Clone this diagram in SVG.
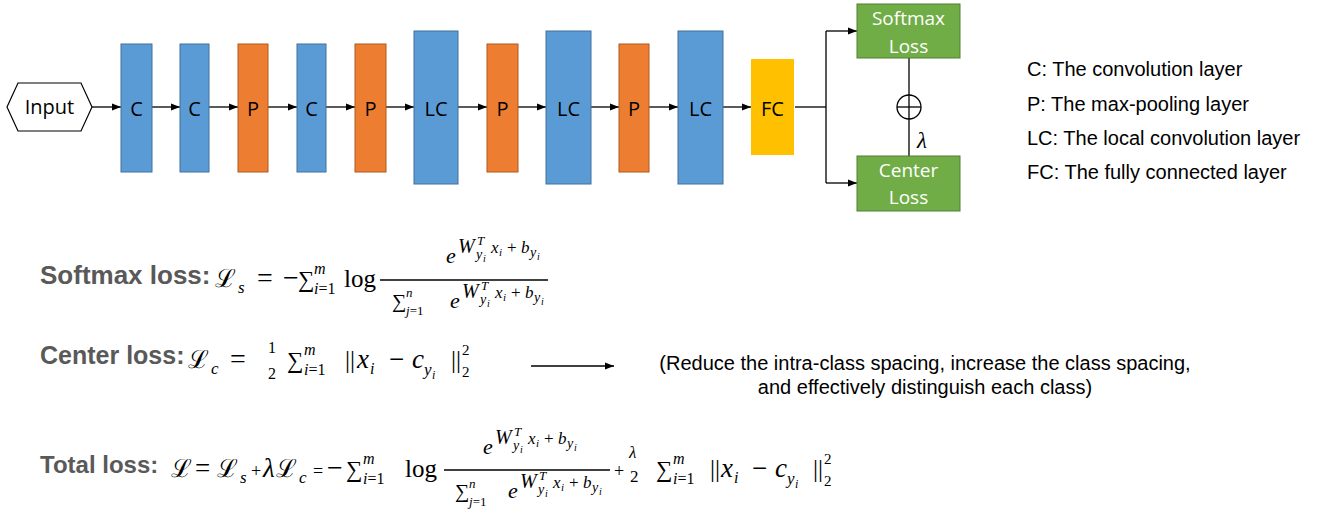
<svg xmlns="http://www.w3.org/2000/svg" xmlns:xlink="http://www.w3.org/1999/xlink" width="1339" height="517" viewBox="0 0 1339 517">
<style>
.conv{fill:#5B9BD5;stroke:#41719C;stroke-width:1}
.pool{fill:#ED7D31;stroke:#AE5A21;stroke-width:1}
.fc{fill:#FFC000}
.loss{fill:#70AD47;stroke:#507E32;stroke-width:1}
.lbl{font-family:"Open Sans","Noto Sans",sans-serif;font-size:20px;fill:#000;text-anchor:middle}
.wl{font-family:"Open Sans","Noto Sans",sans-serif;font-size:19px;fill:#fff;text-anchor:middle}
.leg{font-family:"Liberation Sans",Arial,sans-serif;font-size:20px;fill:#000}
.head{font-family:"Liberation Sans",Arial,sans-serif;font-weight:bold;fill:#595959}
.m{font-family:"Liberation Serif","DejaVu Serif",serif;fill:#000}
.i{font-style:italic}
.ln{fill:none;stroke:#000;stroke-width:1.3}
</style>
<defs>
<marker id="ah" viewBox="0 0 10 10" refX="10" refY="5" markerWidth="9" markerHeight="9" markerUnits="userSpaceOnUse" orient="auto"><path d="M0,1 L10,5 L0,9 z" fill="#000"/></marker>
<g id="expo" class="m">
<text x="0" y="0" font-size="22" class="i">e</text>
<text x="12" y="-10" font-size="20" class="i">W</text>
<text x="31" y="-18" font-size="13" class="i">T</text>
<text x="30" y="-4" font-size="14" class="i">y</text>
<text x="37" y="-1" font-size="10" class="i">i</text>
<text x="45" y="-10" font-size="17" class="i">x</text>
<text x="53" y="-7" font-size="11" class="i">i</text>
<text x="61" y="-10" font-size="17">+</text>
<text x="75" y="-10" font-size="17" class="i">b</text>
<text x="84" y="-6" font-size="14" class="i">y</text>
<text x="91" y="-3" font-size="10" class="i">i</text>
</g>
</defs>
<rect width="1339" height="517" fill="#fff"/>

<g id="connectors" class="ln">
<line x1="92" y1="107" x2="121" y2="107" marker-end="url(#ah)"/>
<line x1="152" y1="107" x2="180" y2="107" marker-end="url(#ah)"/>
<line x1="209" y1="107" x2="238" y2="107" marker-end="url(#ah)"/>
<line x1="268" y1="107" x2="297" y2="107" marker-end="url(#ah)"/>
<line x1="326" y1="107" x2="355" y2="107" marker-end="url(#ah)"/>
<line x1="386" y1="107" x2="414" y2="107" marker-end="url(#ah)"/>
<line x1="458" y1="107" x2="487" y2="107" marker-end="url(#ah)"/>
<line x1="518" y1="107" x2="546" y2="107" marker-end="url(#ah)"/>
<line x1="591" y1="107" x2="619" y2="107" marker-end="url(#ah)"/>
<line x1="649" y1="107" x2="678" y2="107" marker-end="url(#ah)"/>
<line x1="723" y1="107" x2="751" y2="107" marker-end="url(#ah)"/>
<line x1="795" y1="107" x2="826" y2="107"/>
<line x1="826" y1="31" x2="826" y2="183"/>
<line x1="826" y1="31" x2="857" y2="31" marker-end="url(#ah)"/>
<line x1="826" y1="183" x2="857" y2="183" marker-end="url(#ah)"/>
<line x1="909" y1="58" x2="909" y2="156"/>
<circle cx="909" cy="107" r="12"/>
<line x1="897" y1="107" x2="921" y2="107"/>
<line x1="531" y1="366" x2="614" y2="366" marker-end="url(#ah)"/>
</g>
<text x="917" y="148" class="m i" font-size="23">λ</text>

<g id="input"><polygon points="7,107 18,83 81,83 92,107 81,131 18,131" fill="#fff" stroke="#000" stroke-width="1.2"/><text x="49.5" y="114" class="lbl" font-size="16">Input</text></g>
<g id="c1"><rect class="conv" x="121" y="44" width="31" height="128"/><text x="136.5" y="116" class="lbl">C</text></g>
<g id="c2"><rect class="conv" x="180" y="44" width="29" height="128"/><text x="194.5" y="116" class="lbl">C</text></g>
<g id="p1"><rect class="pool" x="238" y="44" width="30" height="128"/><text x="253" y="116" class="lbl">P</text></g>
<g id="c3"><rect class="conv" x="297" y="44" width="29" height="128"/><text x="311.5" y="116" class="lbl">C</text></g>
<g id="p2"><rect class="pool" x="355" y="44" width="31" height="128"/><text x="370.5" y="116" class="lbl">P</text></g>
<g id="lc1"><rect class="conv" x="414" y="31" width="44" height="153"/><text x="436" y="116" class="lbl">LC</text></g>
<g id="p3"><rect class="pool" x="487" y="44" width="31" height="128"/><text x="502.5" y="116" class="lbl">P</text></g>
<g id="lc2"><rect class="conv" x="546" y="31" width="45" height="153"/><text x="568.5" y="116" class="lbl">LC</text></g>
<g id="p4"><rect class="pool" x="619" y="44" width="30" height="128"/><text x="634" y="116" class="lbl">P</text></g>
<g id="lc3"><rect class="conv" x="678" y="31" width="45" height="153"/><text x="700.5" y="116" class="lbl">LC</text></g>
<g id="fc"><rect class="fc" x="751" y="59" width="43" height="96"/><text x="772.5" y="116" class="lbl">FC</text></g>
<g id="softmax-loss"><rect class="loss" x="857" y="4" width="103" height="54"/><text x="908.5" y="25" class="wl">Softmax</text><text x="908.5" y="53" class="wl">Loss</text></g>
<g id="center-loss"><rect class="loss" x="857" y="156" width="103" height="55"/><text x="908.5" y="177" class="wl">Center</text><text x="908.5" y="204" class="wl">Loss</text></g>

<g id="legend" class="leg">
<text x="1027" y="76">C: The convolution layer</text>
<text x="1027" y="111">P: The max-pooling layer</text>
<text x="1027" y="145">LC: The local convolution layer</text>
<text x="1027" y="179">FC: The fully connected layer</text>
</g>

<g id="note" class="leg" text-anchor="middle">
<text x="925" y="370">(Reduce the intra-class spacing, increase the class spacing,</text>
<text x="925" y="394">and effectively distinguish each class)</text>
</g>

<g id="softmax-formula">
<text x="40" y="284" class="head" font-size="26">Softmax loss:</text>
<g class="m">
<text x="215" y="287" font-size="25">ℒ</text>
<text x="238" y="293" font-size="17" class="i">s</text>
<text x="257" y="287" font-size="28">=</text>
<text x="283" y="287" font-size="28">−</text>
<text x="298" y="287" font-size="23">∑</text>
<text x="314" y="274" font-size="16" class="i">m</text>
<text x="314" y="294" font-size="16"><tspan class="i">i</tspan>=1</text>
<text x="344" y="287" font-size="25">log</text>
<line x1="380" y1="280" x2="548" y2="280" stroke="#000" stroke-width="1.3"/>
<text x="392" y="308" font-size="20">∑</text>
<text x="406" y="297" font-size="13" class="i">n</text>
<text x="406" y="315" font-size="13"><tspan class="i">j</tspan>=1</text>
</g>
<use xlink:href="#expo" x="446" y="263"/>
<use xlink:href="#expo" x="450" y="308"/>
</g>

<g id="center-formula">
<text x="40" y="364" class="head" font-size="25">Center loss:</text>
<g class="m">
<text x="188" y="368" font-size="25">ℒ</text>
<text x="211" y="374" font-size="17" class="i">c</text>
<text x="230" y="368" font-size="28">=</text>
<text x="268" y="353" font-size="16">1</text>
<text x="268" y="379" font-size="16">2</text>
<text x="287" y="368" font-size="23">∑</text>
<text x="304" y="355" font-size="16" class="i">m</text>
<text x="304" y="375" font-size="16"><tspan class="i">i</tspan>=1</text>
<text x="345" y="368" font-size="25">||</text>
<text x="357" y="368" font-size="27" class="i">x</text>
<text x="370" y="374" font-size="16" class="i">i</text>
<text x="389" y="368" font-size="27">−</text>
<text x="412" y="368" font-size="27" class="i">c</text>
<text x="424" y="375" font-size="17" class="i">y</text>
<text x="432" y="379" font-size="12" class="i">i</text>
<text x="451" y="368" font-size="25">||</text>
<text x="462" y="355" font-size="15">2</text>
<text x="462" y="377" font-size="15">2</text>
</g>
</g>

<g id="total-formula">
<text x="40" y="473" class="head" font-size="24">Total loss:</text>
<g class="m">
<text x="171" y="477" font-size="25">ℒ</text>
<text x="195" y="477" font-size="27">=</text>
<text x="217" y="477" font-size="25">ℒ</text>
<text x="240" y="483" font-size="17" class="i">s</text>
<text x="251" y="477" font-size="18">+</text>
<text x="263" y="477" font-size="27" class="i">λ</text>
<text x="276" y="477" font-size="25">ℒ</text>
<text x="299" y="483" font-size="17" class="i">c</text>
<text x="313" y="477" font-size="18">=</text>
<text x="327" y="477" font-size="28">−</text>
<text x="346" y="477" font-size="23">∑</text>
<text x="363" y="464" font-size="16" class="i">m</text>
<text x="363" y="484" font-size="16"><tspan class="i">i</tspan>=1</text>
<text x="405" y="477" font-size="25">log</text>
<line x1="444" y1="470" x2="610" y2="470" stroke="#000" stroke-width="1.3"/>
<text x="455" y="498" font-size="20">∑</text>
<text x="469" y="488" font-size="13" class="i">n</text>
<text x="469" y="506" font-size="13"><tspan class="i">j</tspan>=1</text>
<text x="614" y="477" font-size="18">+</text>
<text x="629" y="458" font-size="17" class="i">λ</text>
<text x="630" y="482" font-size="17">2</text>
<text x="656" y="477" font-size="23">∑</text>
<text x="673" y="464" font-size="16" class="i">m</text>
<text x="673" y="484" font-size="16"><tspan class="i">i</tspan>=1</text>
<text x="710" y="477" font-size="25">||</text>
<text x="721" y="477" font-size="27" class="i">x</text>
<text x="734" y="483" font-size="16" class="i">i</text>
<text x="752" y="477" font-size="27">−</text>
<text x="775" y="477" font-size="27" class="i">c</text>
<text x="787" y="484" font-size="17" class="i">y</text>
<text x="795" y="488" font-size="12" class="i">i</text>
<text x="813" y="477" font-size="25">||</text>
<text x="824" y="464" font-size="15">2</text>
<text x="824" y="486" font-size="15">2</text>
</g>
<use xlink:href="#expo" x="483" y="454"/>
<use xlink:href="#expo" x="508" y="498"/>
</g>
</svg>
